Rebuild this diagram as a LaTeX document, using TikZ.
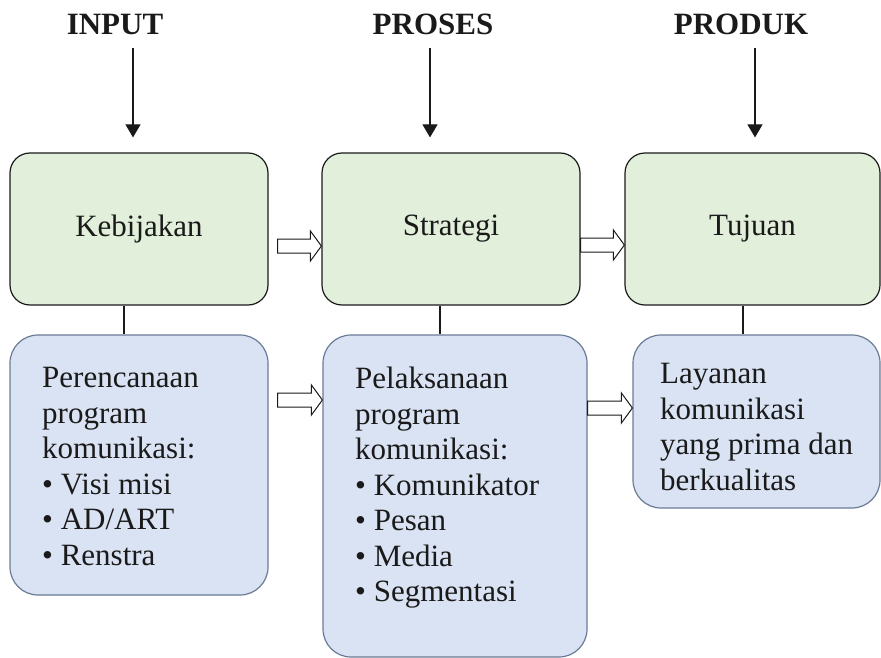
\documentclass[tikz,border=0pt]{standalone}
\usepackage{fontspec}
\setmainfont{Liberation Serif}
\usetikzlibrary{calc,arrows.meta}

\definecolor{greenfill}{HTML}{E2EFDA}
\definecolor{bluefill}{HTML}{DAE3F3}
\definecolor{blueedge}{HTML}{6A7B96}
\definecolor{inkdark}{HTML}{1A1A1A}

\tikzset{
  greenbox/.style={draw=inkdark, fill=greenfill, line width=1.2pt,
    rounded corners=20pt, minimum width=258pt, minimum height=152pt,
    font=\fontsize{31}{35.5}\selectfont, text=inkdark},
  bluebox/.style={draw=blueedge, fill=bluefill, line width=1.2pt,
    rounded corners=28pt},
  bodytext/.style={anchor=north west, inner sep=0pt, align=left,
    font=\fontsize{31}{35.5}\selectfont, text=inkdark},
  heading/.style={anchor=base, inner sep=0pt,
    font=\fontsize{31}{35}\selectfont\bfseries, text=inkdark},
  downarrow/.style={draw=inkdark, line width=1.2pt,
    -{Triangle[length=13pt,width=15pt]}},
  link/.style={draw=inkdark, line width=1.2pt},
  hollowarrow/.style={draw=inkdark, fill=white, line width=1pt, line join=miter}
}

% hollow block arrow from #1 (tail) to #2 (tip)
\newcommand\hollowarrow[2]{%
  \draw[hollowarrow]
    ($(#1)+(0,-7)$) -- ($(#2)+(-11,-7)$) -- ($(#2)+(-11,-15)$) -- (#2)
    -- ($(#2)+(-11,15)$) -- ($(#2)+(-11,7)$) -- ($(#1)+(0,7)$) -- cycle;}

\begin{document}
\begin{tikzpicture}[x=1pt,y=-1pt]
  \useasboundingbox (0,0) rectangle (881,658);

  % column headings
  \node[heading] (hin)  at (115,35) {INPUT};
  \node[heading] (hpro) at (433,35) {PROSES};
  \node[heading] (hprd) at (741,35) {PRODUK};

  % upper row
  \node[greenbox] (g1) at (139,229) {Kebijakan};
  \node[greenbox] (g2) at (451,229) {Strategi};
  \node[greenbox, minimum width=255pt] (g3) at (752.5,229) {Tujuan};

  % lower row
  \node[bluebox, minimum width=258pt, minimum height=260pt] (b1) at (139,465) {};
  \node[bluebox, minimum width=264pt, minimum height=322pt] (b2) at (455,496) {};
  \node[bluebox, minimum width=247pt, minimum height=173pt] (b3) at (756.5,421.5) {};

  \node[bodytext] (t1) at (42,367) {Perencanaan\\program\\komunikasi:\\• Visi misi\\• AD/ART\\• Renstra};
  \node[bodytext] (t2) at (355,367) {Pelaksanaan\\program\\komunikasi:\\• Komunikator\\• Pesan\\• Media\\• Segmentasi};
  \node[bodytext] (t3) at (660,363) {Layanan\\komunikasi\\yang prima dan\\berkualitas};

  % arrows from the headings
  \coordinate (ain) at (133,48);
  \coordinate (apro) at (430,48);
  \coordinate (aprd) at (755,48);
  \draw[downarrow] (ain) -- ($(ain |- g1.north)+(0,-15)$);
  \draw[downarrow] (apro) -- ($(apro |- g2.north)+(0,-15)$);
  \draw[downarrow] (aprd) -- ($(aprd |- g3.north)+(0,-15)$);

  % links between the rows
  \draw[link] ([xshift=-15pt]g1.south) -- ([xshift=-15pt]g1.south |- b1.north);
  \draw[link] ([xshift=-11pt]g2.south) -- ([xshift=-11pt]g2.south |- b2.north);
  \draw[link] ([xshift=-9.5pt]g3.south) -- ([xshift=-9.5pt]g3.south |- b3.north);

  % hollow block arrows
  \coordinate (u1) at ($(g1.east)+(9,17)$);
  \coordinate (u1t) at (g2.west |- u1);
  \hollowarrow{u1}{u1t}
  \coordinate (u2) at ($(g2.east)+(0,16)$);
  \coordinate (u2t) at (g3.west |- u2);
  \hollowarrow{u2}{u2t}
  \coordinate (l1) at ($(b1.east)+(9,-65)$);
  \coordinate (l1t) at (b2.west |- l1);
  \hollowarrow{l1}{l1t}
  \coordinate (l2) at ($(b2.east)+(0,-88)$);
  \coordinate (l2t) at (b3.west |- l2);
  \hollowarrow{l2}{l2t}
\end{tikzpicture}
\end{document}
